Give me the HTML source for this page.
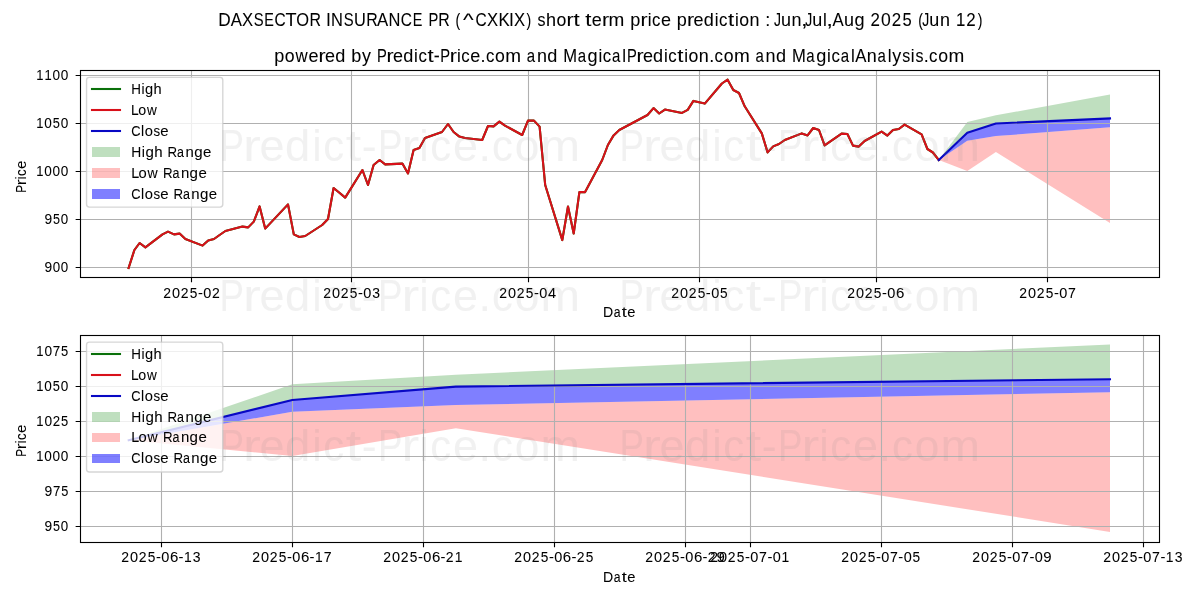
<!DOCTYPE html>
<html lang="en"><head><meta charset="utf-8"><title>DAXSECTOR INSURANCE PR (^CXKIX) short term price prediction</title>
<style>html,body{margin:0;padding:0;background:#fff}svg{display:block;will-change:transform}text{font-family:"Liberation Sans",sans-serif;fill:#000;stroke:#000;stroke-width:0.06;stroke-linejoin:round}.wm text{fill:#808080;stroke:#808080;opacity:.105}</style></head>
<body><svg width="1200" height="600" viewBox="0 0 1200 600">
<rect width="1200" height="600" fill="#fff"/>
<g id="axes1">
<polygon points="938.8,160 967.3,121.91 995.9,115.33 1110,94.62 1110,118.42 995.9,123.49 967.3,132.68 938.8,160" fill="#008000" fill-opacity=".25"/>
<polygon points="938.8,160 967.3,140.7 995.9,136.11 1110,127.33 1110,223.12 995.9,152.02 967.3,171.08 938.8,160" fill="#ff0000" fill-opacity=".25"/>
<polygon points="938.8,160 967.3,132.68 995.9,123.49 1110,118.42 1110,127.33 995.9,136.11 967.3,140.7 938.8,160" fill="#0000ff" fill-opacity=".5"/>
<path d="M191.5 70.5V277.5M351.5 70.5V277.5M528.5 70.5V277.5M699.5 70.5V277.5M876.5 70.5V277.5M1047.5 70.5V277.5M80.5 75.5H1159.5M80.5 123.5H1159.5M80.5 171.5H1159.5M80.5 219.5H1159.5M80.5 267.5H1159.5" stroke="#b0b0b0" stroke-width="1.11" fill="none"/>
<polyline points="128.6,268 134.4,250 139.6,243 145.4,247.4 162.5,234.4 168,231.6 174,234.4 179.6,233.6 185.4,239 202.6,245.6 208.2,240.4 214,239 219.6,235 225.4,231 242.4,226.6 248.2,227.4 253.8,221.6 259.6,206.4 265.2,228.6 288,204.4 293.8,234.4 299.4,237 305.2,236 322.2,225 328,219 333.6,188 339.4,192.8 345.2,197.6 362.4,170 368,185 373.6,165 379.6,160 385.2,164.4 402.4,163.6 408,173.4 413.6,150 419.4,148 425,138 442,132 448,124 453.6,132 459.4,136.6 465,138 482.2,140 488,126 493.6,126.4 499.4,121.6 505,125.6 522.2,135 528,120.6 534,120.6 539.6,126.6 545.2,185 562.3,240.1 568,206.5 573.7,233.5 579.4,192.1 585.1,192.1 602.2,160 607.9,145 613.6,135.4 619.3,130 647.5,115 653.5,108.1 659.2,113.5 664.9,109.6 682,112.9 687.7,109.9 693.4,100.9 704.8,103.6 721.9,83.5 727.6,79.7 733.3,90 739,93 744.7,106.3 761.8,133.4 767.6,152.4 773.2,146.4 779,144 784.8,140 801.8,133.4 807.6,135.4 813.2,128 819,130 824.6,145.4 841.6,133.6 847.4,134 853,145.6 858.8,146.6 864.6,141 881.6,131.6 887.4,135.6 893,130 898.8,129 904.6,124.6 921.6,134.4 927.4,149 932.9,152.5 938.8,160" fill="none" stroke="#0a700a" stroke-width="2.083" stroke-linejoin="round" stroke-linecap="square"/>
<polyline points="128.6,268 134.4,250 139.6,243 145.4,247.4 162.5,234.4 168,231.6 174,234.4 179.6,233.6 185.4,239 202.6,245.6 208.2,240.4 214,239 219.6,235 225.4,231 242.4,226.6 248.2,227.4 253.8,221.6 259.6,206.4 265.2,228.6 288,204.4 293.8,234.4 299.4,237 305.2,236 322.2,225 328,219 333.6,188 339.4,192.8 345.2,197.6 362.4,170 368,185 373.6,165 379.6,160 385.2,164.4 402.4,163.6 408,173.4 413.6,150 419.4,148 425,138 442,132 448,124 453.6,132 459.4,136.6 465,138 482.2,140 488,126 493.6,126.4 499.4,121.6 505,125.6 522.2,135 528,120.6 534,120.6 539.6,126.6 545.2,185 562.3,240.1 568,206.5 573.7,233.5 579.4,192.1 585.1,192.1 602.2,160 607.9,145 613.6,135.4 619.3,130 647.5,115 653.5,108.1 659.2,113.5 664.9,109.6 682,112.9 687.7,109.9 693.4,100.9 704.8,103.6 721.9,83.5 727.6,79.7 733.3,90 739,93 744.7,106.3 761.8,133.4 767.6,152.4 773.2,146.4 779,144 784.8,140 801.8,133.4 807.6,135.4 813.2,128 819,130 824.6,145.4 841.6,133.6 847.4,134 853,145.6 858.8,146.6 864.6,141 881.6,131.6 887.4,135.6 893,130 898.8,129 904.6,124.6 921.6,134.4 927.4,149 932.9,152.5 938.8,160" fill="none" stroke="#d8101a" stroke-width="2.083" stroke-linejoin="round" stroke-linecap="square"/>
<polyline points="938.8,160 967.3,132.68 995.9,123.49 1110,118.42" fill="none" stroke="#0808c4" stroke-width="2.083" stroke-linejoin="round" stroke-linecap="square"/>
<path d="M191.5 277.5v4.86M351.5 277.5v4.86M528.5 277.5v4.86M699.5 277.5v4.86M876.5 277.5v4.86M1047.5 277.5v4.86M80.5 75.5h-4.86M80.5 123.5h-4.86M80.5 171.5h-4.86M80.5 219.5h-4.86M80.5 267.5h-4.86" stroke="#000" stroke-width="1.11" fill="none"/>
<rect x="80.5" y="70.5" width="1079" height="207" fill="none" stroke="#000" stroke-width="1.11"/>
<text transform="translate(163 298)" font-size="14.65"><tspan x="0.3" textLength="7.77" lengthAdjust="spacingAndGlyphs">2</tspan><tspan x="9.08" textLength="8.06" lengthAdjust="spacingAndGlyphs">0</tspan><tspan x="17.78" textLength="7.77" lengthAdjust="spacingAndGlyphs">2</tspan><tspan x="26.72" textLength="7.61" lengthAdjust="spacingAndGlyphs">5</tspan><tspan x="34.96" textLength="4.93" lengthAdjust="spacingAndGlyphs">-</tspan><tspan x="40.24" textLength="8.06" lengthAdjust="spacingAndGlyphs">0</tspan><tspan x="48.94" textLength="7.77" lengthAdjust="spacingAndGlyphs">2</tspan></text>
<text transform="translate(323 298)" font-size="14.65"><tspan x="0.3" textLength="7.77" lengthAdjust="spacingAndGlyphs">2</tspan><tspan x="9.08" textLength="8.06" lengthAdjust="spacingAndGlyphs">0</tspan><tspan x="17.78" textLength="7.77" lengthAdjust="spacingAndGlyphs">2</tspan><tspan x="26.72" textLength="7.61" lengthAdjust="spacingAndGlyphs">5</tspan><tspan x="34.96" textLength="4.93" lengthAdjust="spacingAndGlyphs">-</tspan><tspan x="40.24" textLength="8.06" lengthAdjust="spacingAndGlyphs">0</tspan><tspan x="49.16" textLength="7.74" lengthAdjust="spacingAndGlyphs">3</tspan></text>
<text transform="translate(499 298)" font-size="14.65"><tspan x="0.3" textLength="7.77" lengthAdjust="spacingAndGlyphs">2</tspan><tspan x="9.08" textLength="8.06" lengthAdjust="spacingAndGlyphs">0</tspan><tspan x="17.78" textLength="7.77" lengthAdjust="spacingAndGlyphs">2</tspan><tspan x="26.72" textLength="7.61" lengthAdjust="spacingAndGlyphs">5</tspan><tspan x="34.96" textLength="4.93" lengthAdjust="spacingAndGlyphs">-</tspan><tspan x="40.24" textLength="8.06" lengthAdjust="spacingAndGlyphs">0</tspan><tspan x="48.98" textLength="8.06" lengthAdjust="spacingAndGlyphs">4</tspan></text>
<text transform="translate(670.91 298)" font-size="14.65"><tspan x="0.3" textLength="7.77" lengthAdjust="spacingAndGlyphs">2</tspan><tspan x="9.08" textLength="8.06" lengthAdjust="spacingAndGlyphs">0</tspan><tspan x="17.78" textLength="7.77" lengthAdjust="spacingAndGlyphs">2</tspan><tspan x="26.72" textLength="7.61" lengthAdjust="spacingAndGlyphs">5</tspan><tspan x="34.96" textLength="4.93" lengthAdjust="spacingAndGlyphs">-</tspan><tspan x="40.24" textLength="8.06" lengthAdjust="spacingAndGlyphs">0</tspan><tspan x="49.15" textLength="7.61" lengthAdjust="spacingAndGlyphs">5</tspan></text>
<text transform="translate(847 298)" font-size="14.65"><tspan x="0.31" textLength="7.78" lengthAdjust="spacingAndGlyphs">2</tspan><tspan x="9.1" textLength="8.08" lengthAdjust="spacingAndGlyphs">0</tspan><tspan x="17.82" textLength="7.78" lengthAdjust="spacingAndGlyphs">2</tspan><tspan x="26.78" textLength="7.62" lengthAdjust="spacingAndGlyphs">5</tspan><tspan x="35.04" textLength="4.95" lengthAdjust="spacingAndGlyphs">-</tspan><tspan x="40.33" textLength="8.08" lengthAdjust="spacingAndGlyphs">0</tspan><tspan x="48.94" textLength="8.36" lengthAdjust="spacingAndGlyphs">6</tspan></text>
<text transform="translate(1019 298)" font-size="14.65"><tspan x="0.3" textLength="7.77" lengthAdjust="spacingAndGlyphs">2</tspan><tspan x="9.08" textLength="8.06" lengthAdjust="spacingAndGlyphs">0</tspan><tspan x="17.78" textLength="7.77" lengthAdjust="spacingAndGlyphs">2</tspan><tspan x="26.72" textLength="7.61" lengthAdjust="spacingAndGlyphs">5</tspan><tspan x="34.96" textLength="4.93" lengthAdjust="spacingAndGlyphs">-</tspan><tspan x="40.24" textLength="8.06" lengthAdjust="spacingAndGlyphs">0</tspan><tspan x="49.04" textLength="7.88" lengthAdjust="spacingAndGlyphs">7</tspan></text>
<text transform="translate(35.83 80)" font-size="14.65"><tspan x="0.43" textLength="7.22" lengthAdjust="spacingAndGlyphs">1</tspan><tspan x="8.62" textLength="7.22" lengthAdjust="spacingAndGlyphs">1</tspan><tspan x="16.7" textLength="7.56" lengthAdjust="spacingAndGlyphs">0</tspan><tspan x="24.89" textLength="7.56" lengthAdjust="spacingAndGlyphs">0</tspan></text>
<text transform="translate(35.83 128)" font-size="14.65"><tspan x="0.43" textLength="7.22" lengthAdjust="spacingAndGlyphs">1</tspan><tspan x="8.51" textLength="7.56" lengthAdjust="spacingAndGlyphs">0</tspan><tspan x="16.86" textLength="7.13" lengthAdjust="spacingAndGlyphs">5</tspan><tspan x="24.89" textLength="7.56" lengthAdjust="spacingAndGlyphs">0</tspan></text>
<text transform="translate(35.83 176)" font-size="14.65"><tspan x="0.43" textLength="7.22" lengthAdjust="spacingAndGlyphs">1</tspan><tspan x="8.51" textLength="7.56" lengthAdjust="spacingAndGlyphs">0</tspan><tspan x="16.7" textLength="7.56" lengthAdjust="spacingAndGlyphs">0</tspan><tspan x="24.89" textLength="7.56" lengthAdjust="spacingAndGlyphs">0</tspan></text>
<text transform="translate(44.45 224)" font-size="14.65"><tspan x="0.15" textLength="7.66" lengthAdjust="spacingAndGlyphs">9</tspan><tspan x="8.52" textLength="7" lengthAdjust="spacingAndGlyphs">5</tspan><tspan x="16.4" textLength="7.42" lengthAdjust="spacingAndGlyphs">0</tspan></text>
<text transform="translate(44.45 272)" font-size="14.65"><tspan x="0.15" textLength="7.66" lengthAdjust="spacingAndGlyphs">9</tspan><tspan x="8.36" textLength="7.42" lengthAdjust="spacingAndGlyphs">0</tspan><tspan x="16.4" textLength="7.42" lengthAdjust="spacingAndGlyphs">0</tspan></text>
<text transform="translate(602.91 317)" font-size="14.65"><tspan x="0.18" textLength="10.19" lengthAdjust="spacingAndGlyphs">D</tspan><tspan x="10.79" textLength="6.82" lengthAdjust="spacingAndGlyphs">a</tspan><tspan x="18.93" textLength="5.06" lengthAdjust="spacingAndGlyphs">t</tspan><tspan x="24.3" textLength="8.19" lengthAdjust="spacingAndGlyphs">e</tspan></text>
<text transform="translate(26 193.06) rotate(-90)" font-size="14.65"><tspan x="0.34" textLength="7.87" lengthAdjust="spacingAndGlyphs">P</tspan><tspan x="7.87" textLength="5.69" lengthAdjust="spacingAndGlyphs">r</tspan><tspan x="13.62" textLength="3.03" lengthAdjust="spacingAndGlyphs">i</tspan><tspan x="17.15" textLength="6.69" lengthAdjust="spacingAndGlyphs">c</tspan><tspan x="24.43" textLength="8.02" lengthAdjust="spacingAndGlyphs">e</tspan></text>
<rect x="86.54" y="77.34" width="136.25" height="129.83" rx="2.8" ry="2.8" fill="#fff" fill-opacity=".8" stroke="#ccc" stroke-opacity=".8" stroke-width="1.39"/>
<path d="M92 89H120" stroke="#0a700a" stroke-width="2.083" stroke-linecap="square" fill="none"/>
<path d="M92 110H120" stroke="#d8101a" stroke-width="2.083" stroke-linecap="square" fill="none"/>
<path d="M92 131H120" stroke="#0808c4" stroke-width="2.083" stroke-linecap="square" fill="none"/>
<rect x="92" y="147" width="28" height="10" fill="#008000" fill-opacity=".25"/>
<rect x="92" y="168" width="28" height="10" fill="#ff0000" fill-opacity=".25"/>
<rect x="92" y="189" width="28" height="10" fill="#0000ff" fill-opacity=".5"/>
<text transform="translate(130.93 94)" font-size="14.65"><tspan x="0.22" textLength="9.69" lengthAdjust="spacingAndGlyphs">H</tspan><tspan x="10.48" textLength="3.06" lengthAdjust="spacingAndGlyphs">i</tspan><tspan x="14" textLength="8.15" lengthAdjust="spacingAndGlyphs">g</tspan><tspan x="22.63" textLength="8.14" lengthAdjust="spacingAndGlyphs">h</tspan></text>
<text transform="translate(130.93 115)" font-size="14.65"><tspan x="0.18" textLength="7.67" lengthAdjust="spacingAndGlyphs">L</tspan><tspan x="7.36" textLength="7.93" lengthAdjust="spacingAndGlyphs">o</tspan><tspan x="16" textLength="9.79" lengthAdjust="spacingAndGlyphs">w</tspan></text>
<text transform="translate(131 136)" font-size="14.65"><tspan x="0.13" textLength="9.3" lengthAdjust="spacingAndGlyphs">C</tspan><tspan x="10.03" textLength="3.15" lengthAdjust="spacingAndGlyphs">l</tspan><tspan x="13.67" textLength="8.2" lengthAdjust="spacingAndGlyphs">o</tspan><tspan x="22.39" textLength="6.65" lengthAdjust="spacingAndGlyphs">s</tspan><tspan x="29.35" textLength="8.33" lengthAdjust="spacingAndGlyphs">e</tspan></text>
<text transform="translate(131 157)" font-size="14.65"><tspan x="0.23" textLength="9.98" lengthAdjust="spacingAndGlyphs">H</tspan><tspan x="10.8" textLength="3.16" lengthAdjust="spacingAndGlyphs">i</tspan><tspan x="14.43" textLength="8.4" lengthAdjust="spacingAndGlyphs">g</tspan><tspan x="23.32" textLength="8.39" lengthAdjust="spacingAndGlyphs">h</tspan><tspan x="31.91"> </tspan><tspan x="36.59" textLength="9.6" lengthAdjust="spacingAndGlyphs">R</tspan><tspan x="46.02" textLength="6.95" lengthAdjust="spacingAndGlyphs">a</tspan><tspan x="54.49" textLength="8.33" lengthAdjust="spacingAndGlyphs">n</tspan><tspan x="63.15" textLength="8.4" lengthAdjust="spacingAndGlyphs">g</tspan><tspan x="71.96" textLength="8.35" lengthAdjust="spacingAndGlyphs">e</tspan></text>
<text transform="translate(131 178)" font-size="14.65"><tspan x="0.19" textLength="7.96" lengthAdjust="spacingAndGlyphs">L</tspan><tspan x="7.64" textLength="8.22" lengthAdjust="spacingAndGlyphs">o</tspan><tspan x="16.6" textLength="10.15" lengthAdjust="spacingAndGlyphs">w</tspan><tspan x="27.36"> </tspan><tspan x="32.05" textLength="9.61" lengthAdjust="spacingAndGlyphs">R</tspan><tspan x="41.49" textLength="6.96" lengthAdjust="spacingAndGlyphs">a</tspan><tspan x="49.96" textLength="8.34" lengthAdjust="spacingAndGlyphs">n</tspan><tspan x="58.64" textLength="8.41" lengthAdjust="spacingAndGlyphs">g</tspan><tspan x="67.45" textLength="8.36" lengthAdjust="spacingAndGlyphs">e</tspan></text>
<text transform="translate(131 199)" font-size="14.65"><tspan x="0.13" textLength="9.31" lengthAdjust="spacingAndGlyphs">C</tspan><tspan x="10.04" textLength="3.15" lengthAdjust="spacingAndGlyphs">l</tspan><tspan x="13.69" textLength="8.21" lengthAdjust="spacingAndGlyphs">o</tspan><tspan x="22.42" textLength="6.66" lengthAdjust="spacingAndGlyphs">s</tspan><tspan x="29.39" textLength="8.34" lengthAdjust="spacingAndGlyphs">e</tspan><tspan x="37.8"> </tspan><tspan x="42.49" textLength="9.59" lengthAdjust="spacingAndGlyphs">R</tspan><tspan x="51.91" textLength="6.95" lengthAdjust="spacingAndGlyphs">a</tspan><tspan x="60.38" textLength="8.33" lengthAdjust="spacingAndGlyphs">n</tspan><tspan x="69.04" textLength="8.4" lengthAdjust="spacingAndGlyphs">g</tspan><tspan x="77.84" textLength="8.34" lengthAdjust="spacingAndGlyphs">e</tspan></text>
</g>
<g id="axes2">
<polygon points="128.7,440.3 292.3,384.3 455.9,374.7 1110,344.5 1110,379.2 455.9,386.6 292.3,400 128.7,440.3" fill="#008000" fill-opacity=".25"/>
<polygon points="128.7,440.3 292.3,411.7 455.9,405 1110,392.2 1110,531.9 455.9,428.2 292.3,456 128.7,440.3" fill="#ff0000" fill-opacity=".25"/>
<polygon points="128.7,440.3 292.3,400 455.9,386.6 1110,379.2 1110,392.2 455.9,405 292.3,411.7 128.7,440.3" fill="#0000ff" fill-opacity=".5"/>
<path d="M161.5 335.5V542.5M292.5 335.5V542.5M423.5 335.5V542.5M554.5 335.5V542.5M685.5 335.5V542.5M750.5 335.5V542.5M881.5 335.5V542.5M1012.5 335.5V542.5M1143.5 335.5V542.5M80.5 351.5H1159.5M80.5 386.5H1159.5M80.5 421.5H1159.5M80.5 456.5H1159.5M80.5 491.5H1159.5M80.5 526.5H1159.5" stroke="#b0b0b0" stroke-width="1.11" fill="none"/>
<polyline points="128.7,440.3 292.3,400 455.9,386.6 1110,379.2" fill="none" stroke="#0808c4" stroke-width="2.083" stroke-linejoin="round" stroke-linecap="square"/>
<path d="M161.5 542.5v4.86M292.5 542.5v4.86M423.5 542.5v4.86M554.5 542.5v4.86M685.5 542.5v4.86M750.5 542.5v4.86M881.5 542.5v4.86M1012.5 542.5v4.86M1143.5 542.5v4.86M80.5 351.5h-4.86M80.5 386.5h-4.86M80.5 421.5h-4.86M80.5 456.5h-4.86M80.5 491.5h-4.86M80.5 526.5h-4.86" stroke="#000" stroke-width="1.11" fill="none"/>
<rect x="80.5" y="335.5" width="1079" height="207" fill="none" stroke="#000" stroke-width="1.11"/>
<text transform="translate(121 562)" font-size="14.65"><tspan x="0.31" textLength="7.79" lengthAdjust="spacingAndGlyphs">2</tspan><tspan x="9.1" textLength="8.08" lengthAdjust="spacingAndGlyphs">0</tspan><tspan x="17.82" textLength="7.79" lengthAdjust="spacingAndGlyphs">2</tspan><tspan x="26.79" textLength="7.62" lengthAdjust="spacingAndGlyphs">5</tspan><tspan x="35.05" textLength="4.95" lengthAdjust="spacingAndGlyphs">-</tspan><tspan x="40.34" textLength="8.08" lengthAdjust="spacingAndGlyphs">0</tspan><tspan x="48.96" textLength="8.36" lengthAdjust="spacingAndGlyphs">6</tspan><tspan x="57.53" textLength="4.95" lengthAdjust="spacingAndGlyphs">-</tspan><tspan x="62.94" textLength="7.72" lengthAdjust="spacingAndGlyphs">1</tspan><tspan x="71.76" textLength="7.76" lengthAdjust="spacingAndGlyphs">3</tspan></text>
<text transform="translate(252 562)" font-size="14.65"><tspan x="0.31" textLength="7.79" lengthAdjust="spacingAndGlyphs">2</tspan><tspan x="9.1" textLength="8.08" lengthAdjust="spacingAndGlyphs">0</tspan><tspan x="17.82" textLength="7.79" lengthAdjust="spacingAndGlyphs">2</tspan><tspan x="26.79" textLength="7.62" lengthAdjust="spacingAndGlyphs">5</tspan><tspan x="35.05" textLength="4.95" lengthAdjust="spacingAndGlyphs">-</tspan><tspan x="40.34" textLength="8.08" lengthAdjust="spacingAndGlyphs">0</tspan><tspan x="48.96" textLength="8.36" lengthAdjust="spacingAndGlyphs">6</tspan><tspan x="57.53" textLength="4.95" lengthAdjust="spacingAndGlyphs">-</tspan><tspan x="62.94" textLength="7.72" lengthAdjust="spacingAndGlyphs">1</tspan><tspan x="71.64" textLength="7.9" lengthAdjust="spacingAndGlyphs">7</tspan></text>
<text transform="translate(383 562)" font-size="14.65"><tspan x="0.31" textLength="7.79" lengthAdjust="spacingAndGlyphs">2</tspan><tspan x="9.1" textLength="8.08" lengthAdjust="spacingAndGlyphs">0</tspan><tspan x="17.82" textLength="7.79" lengthAdjust="spacingAndGlyphs">2</tspan><tspan x="26.79" textLength="7.62" lengthAdjust="spacingAndGlyphs">5</tspan><tspan x="35.05" textLength="4.95" lengthAdjust="spacingAndGlyphs">-</tspan><tspan x="40.34" textLength="8.08" lengthAdjust="spacingAndGlyphs">0</tspan><tspan x="48.96" textLength="8.36" lengthAdjust="spacingAndGlyphs">6</tspan><tspan x="57.53" textLength="4.95" lengthAdjust="spacingAndGlyphs">-</tspan><tspan x="62.79" textLength="7.79" lengthAdjust="spacingAndGlyphs">2</tspan><tspan x="71.7" textLength="7.72" lengthAdjust="spacingAndGlyphs">1</tspan></text>
<text transform="translate(514 562)" font-size="14.65"><tspan x="0.3" textLength="7.77" lengthAdjust="spacingAndGlyphs">2</tspan><tspan x="9.08" textLength="8.07" lengthAdjust="spacingAndGlyphs">0</tspan><tspan x="17.79" textLength="7.77" lengthAdjust="spacingAndGlyphs">2</tspan><tspan x="26.75" textLength="7.61" lengthAdjust="spacingAndGlyphs">5</tspan><tspan x="34.99" textLength="4.94" lengthAdjust="spacingAndGlyphs">-</tspan><tspan x="40.28" textLength="8.07" lengthAdjust="spacingAndGlyphs">0</tspan><tspan x="48.88" textLength="8.35" lengthAdjust="spacingAndGlyphs">6</tspan><tspan x="57.44" textLength="4.94" lengthAdjust="spacingAndGlyphs">-</tspan><tspan x="62.69" textLength="7.77" lengthAdjust="spacingAndGlyphs">2</tspan><tspan x="71.64" textLength="7.61" lengthAdjust="spacingAndGlyphs">5</tspan></text>
<text transform="translate(645 562)" font-size="14.65"><tspan x="0.31" textLength="7.79" lengthAdjust="spacingAndGlyphs">2</tspan><tspan x="9.1" textLength="8.08" lengthAdjust="spacingAndGlyphs">0</tspan><tspan x="17.82" textLength="7.79" lengthAdjust="spacingAndGlyphs">2</tspan><tspan x="26.79" textLength="7.62" lengthAdjust="spacingAndGlyphs">5</tspan><tspan x="35.05" textLength="4.95" lengthAdjust="spacingAndGlyphs">-</tspan><tspan x="40.34" textLength="8.08" lengthAdjust="spacingAndGlyphs">0</tspan><tspan x="48.96" textLength="8.36" lengthAdjust="spacingAndGlyphs">6</tspan><tspan x="57.53" textLength="4.95" lengthAdjust="spacingAndGlyphs">-</tspan><tspan x="62.79" textLength="7.79" lengthAdjust="spacingAndGlyphs">2</tspan><tspan x="71.41" textLength="8.34" lengthAdjust="spacingAndGlyphs">9</tspan></text>
<text transform="translate(710 562)" font-size="14.65"><tspan x="0.3" textLength="7.77" lengthAdjust="spacingAndGlyphs">2</tspan><tspan x="9.08" textLength="8.07" lengthAdjust="spacingAndGlyphs">0</tspan><tspan x="17.79" textLength="7.77" lengthAdjust="spacingAndGlyphs">2</tspan><tspan x="26.75" textLength="7.61" lengthAdjust="spacingAndGlyphs">5</tspan><tspan x="34.99" textLength="4.94" lengthAdjust="spacingAndGlyphs">-</tspan><tspan x="40.28" textLength="8.07" lengthAdjust="spacingAndGlyphs">0</tspan><tspan x="49.08" textLength="7.89" lengthAdjust="spacingAndGlyphs">7</tspan><tspan x="57.44" textLength="4.94" lengthAdjust="spacingAndGlyphs">-</tspan><tspan x="62.73" textLength="8.07" lengthAdjust="spacingAndGlyphs">0</tspan><tspan x="71.59" textLength="7.7" lengthAdjust="spacingAndGlyphs">1</tspan></text>
<text transform="translate(841 562)" font-size="14.65"><tspan x="0.3" textLength="7.76" lengthAdjust="spacingAndGlyphs">2</tspan><tspan x="9.07" textLength="8.05" lengthAdjust="spacingAndGlyphs">0</tspan><tspan x="17.77" textLength="7.76" lengthAdjust="spacingAndGlyphs">2</tspan><tspan x="26.71" textLength="7.6" lengthAdjust="spacingAndGlyphs">5</tspan><tspan x="34.94" textLength="4.93" lengthAdjust="spacingAndGlyphs">-</tspan><tspan x="40.21" textLength="8.05" lengthAdjust="spacingAndGlyphs">0</tspan><tspan x="49.01" textLength="7.88" lengthAdjust="spacingAndGlyphs">7</tspan><tspan x="57.35" textLength="4.93" lengthAdjust="spacingAndGlyphs">-</tspan><tspan x="62.63" textLength="8.05" lengthAdjust="spacingAndGlyphs">0</tspan><tspan x="71.53" textLength="7.6" lengthAdjust="spacingAndGlyphs">5</tspan></text>
<text transform="translate(972 562)" font-size="14.65"><tspan x="0.3" textLength="7.77" lengthAdjust="spacingAndGlyphs">2</tspan><tspan x="9.08" textLength="8.07" lengthAdjust="spacingAndGlyphs">0</tspan><tspan x="17.79" textLength="7.77" lengthAdjust="spacingAndGlyphs">2</tspan><tspan x="26.75" textLength="7.61" lengthAdjust="spacingAndGlyphs">5</tspan><tspan x="34.99" textLength="4.94" lengthAdjust="spacingAndGlyphs">-</tspan><tspan x="40.28" textLength="8.07" lengthAdjust="spacingAndGlyphs">0</tspan><tspan x="49.08" textLength="7.89" lengthAdjust="spacingAndGlyphs">7</tspan><tspan x="57.44" textLength="4.94" lengthAdjust="spacingAndGlyphs">-</tspan><tspan x="62.73" textLength="8.07" lengthAdjust="spacingAndGlyphs">0</tspan><tspan x="71.29" textLength="8.33" lengthAdjust="spacingAndGlyphs">9</tspan></text>
<text transform="translate(1103 562)" font-size="14.65"><tspan x="0.3" textLength="7.77" lengthAdjust="spacingAndGlyphs">2</tspan><tspan x="9.08" textLength="8.07" lengthAdjust="spacingAndGlyphs">0</tspan><tspan x="17.79" textLength="7.77" lengthAdjust="spacingAndGlyphs">2</tspan><tspan x="26.75" textLength="7.61" lengthAdjust="spacingAndGlyphs">5</tspan><tspan x="34.99" textLength="4.94" lengthAdjust="spacingAndGlyphs">-</tspan><tspan x="40.28" textLength="8.07" lengthAdjust="spacingAndGlyphs">0</tspan><tspan x="49.08" textLength="7.89" lengthAdjust="spacingAndGlyphs">7</tspan><tspan x="57.44" textLength="4.94" lengthAdjust="spacingAndGlyphs">-</tspan><tspan x="62.84" textLength="7.7" lengthAdjust="spacingAndGlyphs">1</tspan><tspan x="71.65" textLength="7.75" lengthAdjust="spacingAndGlyphs">3</tspan></text>
<text transform="translate(35.82 356)" font-size="14.65"><tspan x="0.43" textLength="7.28" lengthAdjust="spacingAndGlyphs">1</tspan><tspan x="8.59" textLength="7.62" lengthAdjust="spacingAndGlyphs">0</tspan><tspan x="16.91" textLength="7.46" lengthAdjust="spacingAndGlyphs">7</tspan><tspan x="25.28" textLength="7.19" lengthAdjust="spacingAndGlyphs">5</tspan></text>
<text transform="translate(35.83 391)" font-size="14.65"><tspan x="0.43" textLength="7.22" lengthAdjust="spacingAndGlyphs">1</tspan><tspan x="8.51" textLength="7.56" lengthAdjust="spacingAndGlyphs">0</tspan><tspan x="16.86" textLength="7.13" lengthAdjust="spacingAndGlyphs">5</tspan><tspan x="24.89" textLength="7.56" lengthAdjust="spacingAndGlyphs">0</tspan></text>
<text transform="translate(35.82 426)" font-size="14.65"><tspan x="0.43" textLength="7.28" lengthAdjust="spacingAndGlyphs">1</tspan><tspan x="8.59" textLength="7.62" lengthAdjust="spacingAndGlyphs">0</tspan><tspan x="16.82" textLength="7.35" lengthAdjust="spacingAndGlyphs">2</tspan><tspan x="25.28" textLength="7.19" lengthAdjust="spacingAndGlyphs">5</tspan></text>
<text transform="translate(35.83 461)" font-size="14.65"><tspan x="0.43" textLength="7.22" lengthAdjust="spacingAndGlyphs">1</tspan><tspan x="8.51" textLength="7.56" lengthAdjust="spacingAndGlyphs">0</tspan><tspan x="16.7" textLength="7.56" lengthAdjust="spacingAndGlyphs">0</tspan><tspan x="24.89" textLength="7.56" lengthAdjust="spacingAndGlyphs">0</tspan></text>
<text transform="translate(44.44 496)" font-size="14.65"><tspan x="0.15" textLength="7.75" lengthAdjust="spacingAndGlyphs">9</tspan><tspan x="8.51" textLength="7.34" lengthAdjust="spacingAndGlyphs">7</tspan><tspan x="16.76" textLength="7.09" lengthAdjust="spacingAndGlyphs">5</tspan></text>
<text transform="translate(44.45 531)" font-size="14.65"><tspan x="0.15" textLength="7.66" lengthAdjust="spacingAndGlyphs">9</tspan><tspan x="8.52" textLength="7" lengthAdjust="spacingAndGlyphs">5</tspan><tspan x="16.4" textLength="7.42" lengthAdjust="spacingAndGlyphs">0</tspan></text>
<text transform="translate(602.91 582)" font-size="14.65"><tspan x="0.18" textLength="10.19" lengthAdjust="spacingAndGlyphs">D</tspan><tspan x="10.79" textLength="6.82" lengthAdjust="spacingAndGlyphs">a</tspan><tspan x="18.93" textLength="5.06" lengthAdjust="spacingAndGlyphs">t</tspan><tspan x="24.3" textLength="8.19" lengthAdjust="spacingAndGlyphs">e</tspan></text>
<text transform="translate(26 457.06) rotate(-90)" font-size="14.65"><tspan x="0.34" textLength="7.87" lengthAdjust="spacingAndGlyphs">P</tspan><tspan x="7.87" textLength="5.69" lengthAdjust="spacingAndGlyphs">r</tspan><tspan x="13.62" textLength="3.03" lengthAdjust="spacingAndGlyphs">i</tspan><tspan x="17.15" textLength="6.69" lengthAdjust="spacingAndGlyphs">c</tspan><tspan x="24.43" textLength="8.02" lengthAdjust="spacingAndGlyphs">e</tspan></text>
<rect x="86.54" y="342.14" width="136.25" height="129.83" rx="2.8" ry="2.8" fill="#fff" fill-opacity=".8" stroke="#ccc" stroke-opacity=".8" stroke-width="1.39"/>
<path d="M92 354H120" stroke="#0a700a" stroke-width="2.083" stroke-linecap="square" fill="none"/>
<path d="M92 375H120" stroke="#d8101a" stroke-width="2.083" stroke-linecap="square" fill="none"/>
<path d="M92 396H120" stroke="#0808c4" stroke-width="2.083" stroke-linecap="square" fill="none"/>
<rect x="92" y="412" width="28" height="10" fill="#008000" fill-opacity=".25"/>
<rect x="92" y="433" width="28" height="9" fill="#ff0000" fill-opacity=".25"/>
<rect x="92" y="454" width="28" height="9" fill="#0000ff" fill-opacity=".5"/>
<text transform="translate(130.93 359)" font-size="14.65"><tspan x="0.22" textLength="9.69" lengthAdjust="spacingAndGlyphs">H</tspan><tspan x="10.48" textLength="3.06" lengthAdjust="spacingAndGlyphs">i</tspan><tspan x="14" textLength="8.15" lengthAdjust="spacingAndGlyphs">g</tspan><tspan x="22.63" textLength="8.14" lengthAdjust="spacingAndGlyphs">h</tspan></text>
<text transform="translate(130.93 380)" font-size="14.65"><tspan x="0.18" textLength="7.67" lengthAdjust="spacingAndGlyphs">L</tspan><tspan x="7.36" textLength="7.93" lengthAdjust="spacingAndGlyphs">o</tspan><tspan x="16" textLength="9.79" lengthAdjust="spacingAndGlyphs">w</tspan></text>
<text transform="translate(131 401)" font-size="14.65"><tspan x="0.13" textLength="9.3" lengthAdjust="spacingAndGlyphs">C</tspan><tspan x="10.03" textLength="3.15" lengthAdjust="spacingAndGlyphs">l</tspan><tspan x="13.67" textLength="8.2" lengthAdjust="spacingAndGlyphs">o</tspan><tspan x="22.39" textLength="6.65" lengthAdjust="spacingAndGlyphs">s</tspan><tspan x="29.35" textLength="8.33" lengthAdjust="spacingAndGlyphs">e</tspan></text>
<text transform="translate(131 422)" font-size="14.65"><tspan x="0.23" textLength="9.98" lengthAdjust="spacingAndGlyphs">H</tspan><tspan x="10.8" textLength="3.16" lengthAdjust="spacingAndGlyphs">i</tspan><tspan x="14.43" textLength="8.4" lengthAdjust="spacingAndGlyphs">g</tspan><tspan x="23.32" textLength="8.39" lengthAdjust="spacingAndGlyphs">h</tspan><tspan x="31.91"> </tspan><tspan x="36.59" textLength="9.6" lengthAdjust="spacingAndGlyphs">R</tspan><tspan x="46.02" textLength="6.95" lengthAdjust="spacingAndGlyphs">a</tspan><tspan x="54.49" textLength="8.33" lengthAdjust="spacingAndGlyphs">n</tspan><tspan x="63.15" textLength="8.4" lengthAdjust="spacingAndGlyphs">g</tspan><tspan x="71.96" textLength="8.35" lengthAdjust="spacingAndGlyphs">e</tspan></text>
<text transform="translate(131 442)" font-size="14.65"><tspan x="0.19" textLength="7.96" lengthAdjust="spacingAndGlyphs">L</tspan><tspan x="7.64" textLength="8.22" lengthAdjust="spacingAndGlyphs">o</tspan><tspan x="16.6" textLength="10.15" lengthAdjust="spacingAndGlyphs">w</tspan><tspan x="27.36"> </tspan><tspan x="32.05" textLength="9.61" lengthAdjust="spacingAndGlyphs">R</tspan><tspan x="41.49" textLength="6.96" lengthAdjust="spacingAndGlyphs">a</tspan><tspan x="49.96" textLength="8.34" lengthAdjust="spacingAndGlyphs">n</tspan><tspan x="58.64" textLength="8.41" lengthAdjust="spacingAndGlyphs">g</tspan><tspan x="67.45" textLength="8.36" lengthAdjust="spacingAndGlyphs">e</tspan></text>
<text transform="translate(131 463)" font-size="14.65"><tspan x="0.13" textLength="9.31" lengthAdjust="spacingAndGlyphs">C</tspan><tspan x="10.04" textLength="3.15" lengthAdjust="spacingAndGlyphs">l</tspan><tspan x="13.69" textLength="8.21" lengthAdjust="spacingAndGlyphs">o</tspan><tspan x="22.42" textLength="6.66" lengthAdjust="spacingAndGlyphs">s</tspan><tspan x="29.39" textLength="8.34" lengthAdjust="spacingAndGlyphs">e</tspan><tspan x="37.8"> </tspan><tspan x="42.49" textLength="9.59" lengthAdjust="spacingAndGlyphs">R</tspan><tspan x="51.91" textLength="6.95" lengthAdjust="spacingAndGlyphs">a</tspan><tspan x="60.38" textLength="8.33" lengthAdjust="spacingAndGlyphs">n</tspan><tspan x="69.04" textLength="8.4" lengthAdjust="spacingAndGlyphs">g</tspan><tspan x="77.84" textLength="8.34" lengthAdjust="spacingAndGlyphs">e</tspan></text>
</g>
<text transform="translate(218 26)" font-size="17.58"><tspan x="0.22" textLength="12.44" lengthAdjust="spacingAndGlyphs">D</tspan><tspan x="12.63" textLength="11.19" lengthAdjust="spacingAndGlyphs">A</tspan><tspan x="24.02" textLength="11.11" lengthAdjust="spacingAndGlyphs">X</tspan><tspan x="35.7" textLength="9.9" lengthAdjust="spacingAndGlyphs">S</tspan><tspan x="46.26" textLength="9.62" lengthAdjust="spacingAndGlyphs">E</tspan><tspan x="56.46" textLength="11.16" lengthAdjust="spacingAndGlyphs">C</tspan><tspan x="67.45" textLength="11.09" lengthAdjust="spacingAndGlyphs">T</tspan><tspan x="78.2" textLength="12.8" lengthAdjust="spacingAndGlyphs">O</tspan><tspan x="91.44" textLength="11.5" lengthAdjust="spacingAndGlyphs">R</tspan><tspan x="102.65"> </tspan><tspan x="107.94" textLength="4.89" lengthAdjust="spacingAndGlyphs">I</tspan><tspan x="113.12" textLength="11.88" lengthAdjust="spacingAndGlyphs">N</tspan><tspan x="125.68" textLength="9.9" lengthAdjust="spacingAndGlyphs">S</tspan><tspan x="135.98" textLength="11.82" lengthAdjust="spacingAndGlyphs">U</tspan><tspan x="148.28" textLength="11.5" lengthAdjust="spacingAndGlyphs">R</tspan><tspan x="158.96" textLength="11.19" lengthAdjust="spacingAndGlyphs">A</tspan><tspan x="170.51" textLength="11.88" lengthAdjust="spacingAndGlyphs">N</tspan><tspan x="182.79" textLength="11.16" lengthAdjust="spacingAndGlyphs">C</tspan><tspan x="194.69" textLength="9.62" lengthAdjust="spacingAndGlyphs">E</tspan><tspan x="204.73"> </tspan><tspan x="210.44" textLength="9.82" lengthAdjust="spacingAndGlyphs">P</tspan><tspan x="220.35" textLength="11.5" lengthAdjust="spacingAndGlyphs">R</tspan><tspan x="231.56"> </tspan><tspan x="237.4" textLength="4.69" lengthAdjust="spacingAndGlyphs">(</tspan><tspan x="244.97" textLength="10.64" lengthAdjust="spacingAndGlyphs">^</tspan><tspan x="257.38" textLength="11.16" lengthAdjust="spacingAndGlyphs">C</tspan><tspan x="268.95" textLength="11.11" lengthAdjust="spacingAndGlyphs">X</tspan><tspan x="280.46" textLength="11.2" lengthAdjust="spacingAndGlyphs">K</tspan><tspan x="291.1" textLength="4.89" lengthAdjust="spacingAndGlyphs">I</tspan><tspan x="296.11" textLength="11.11" lengthAdjust="spacingAndGlyphs">X</tspan><tspan x="308.62" textLength="4.69" lengthAdjust="spacingAndGlyphs">)</tspan><tspan x="313.85"> </tspan><tspan x="319.58" textLength="7.98" lengthAdjust="spacingAndGlyphs">s</tspan><tspan x="328.04" textLength="10.05" lengthAdjust="spacingAndGlyphs">h</tspan><tspan x="338.48" textLength="9.84" lengthAdjust="spacingAndGlyphs">o</tspan><tspan x="348.56" textLength="7.1" lengthAdjust="spacingAndGlyphs">r</tspan><tspan x="355.4" textLength="6.18" lengthAdjust="spacingAndGlyphs">t</tspan><tspan x="361.8"> </tspan><tspan x="367.19" textLength="6.18" lengthAdjust="spacingAndGlyphs">t</tspan><tspan x="373.74" textLength="10" lengthAdjust="spacingAndGlyphs">e</tspan><tspan x="383.9" textLength="7.1" lengthAdjust="spacingAndGlyphs">r</tspan><tspan x="390.64" textLength="15.8" lengthAdjust="spacingAndGlyphs">m</tspan><tspan x="406.56"> </tspan><tspan x="412.18" textLength="10.07" lengthAdjust="spacingAndGlyphs">p</tspan><tspan x="422.48" textLength="7.1" lengthAdjust="spacingAndGlyphs">r</tspan><tspan x="429.64" textLength="3.78" lengthAdjust="spacingAndGlyphs">i</tspan><tspan x="434.03" textLength="8.35" lengthAdjust="spacingAndGlyphs">c</tspan><tspan x="443.11" textLength="10" lengthAdjust="spacingAndGlyphs">e</tspan><tspan x="453.17"> </tspan><tspan x="458.79" textLength="10.07" lengthAdjust="spacingAndGlyphs">p</tspan><tspan x="469.08" textLength="7.1" lengthAdjust="spacingAndGlyphs">r</tspan><tspan x="475.59" textLength="10" lengthAdjust="spacingAndGlyphs">e</tspan><tspan x="485.82" textLength="10.06" lengthAdjust="spacingAndGlyphs">d</tspan><tspan x="496.63" textLength="3.78" lengthAdjust="spacingAndGlyphs">i</tspan><tspan x="501.02" textLength="8.35" lengthAdjust="spacingAndGlyphs">c</tspan><tspan x="510.05" textLength="6.18" lengthAdjust="spacingAndGlyphs">t</tspan><tspan x="516.88" textLength="3.78" lengthAdjust="spacingAndGlyphs">i</tspan><tspan x="521.24" textLength="9.84" lengthAdjust="spacingAndGlyphs">o</tspan><tspan x="531.55" textLength="9.98" lengthAdjust="spacingAndGlyphs">n</tspan><tspan x="541.75"> </tspan><tspan x="547.34" textLength="5" lengthAdjust="spacingAndGlyphs">:</tspan><tspan x="552.62"> </tspan><tspan x="556.01" textLength="7.03" lengthAdjust="spacingAndGlyphs">J</tspan><tspan x="563.05" textLength="9.98" lengthAdjust="spacingAndGlyphs">u</tspan><tspan x="573.64" textLength="9.98" lengthAdjust="spacingAndGlyphs">n</tspan><tspan x="582.95" textLength="6.74" lengthAdjust="spacingAndGlyphs">,</tspan><tspan x="587.23" textLength="7.03" lengthAdjust="spacingAndGlyphs">J</tspan><tspan x="594.27" textLength="9.98" lengthAdjust="spacingAndGlyphs">u</tspan><tspan x="604.97" textLength="3.78" lengthAdjust="spacingAndGlyphs">l</tspan><tspan x="608.27" textLength="6.74" lengthAdjust="spacingAndGlyphs">,</tspan><tspan x="614.54" textLength="11.19" lengthAdjust="spacingAndGlyphs">A</tspan><tspan x="626.05" textLength="9.98" lengthAdjust="spacingAndGlyphs">u</tspan><tspan x="636.49" textLength="10.06" lengthAdjust="spacingAndGlyphs">g</tspan><tspan x="646.87"> </tspan><tspan x="652.52" textLength="9.41" lengthAdjust="spacingAndGlyphs">2</tspan><tspan x="663.12" textLength="9.76" lengthAdjust="spacingAndGlyphs">0</tspan><tspan x="673.65" textLength="9.41" lengthAdjust="spacingAndGlyphs">2</tspan><tspan x="684.46" textLength="9.21" lengthAdjust="spacingAndGlyphs">5</tspan><tspan x="694.41"> </tspan><tspan x="700.24" textLength="4.69" lengthAdjust="spacingAndGlyphs">(</tspan><tspan x="704.27" textLength="7.03" lengthAdjust="spacingAndGlyphs">J</tspan><tspan x="711.31" textLength="9.98" lengthAdjust="spacingAndGlyphs">u</tspan><tspan x="721.91" textLength="9.98" lengthAdjust="spacingAndGlyphs">n</tspan><tspan x="732.11"> </tspan><tspan x="737.94" textLength="9.32" lengthAdjust="spacingAndGlyphs">1</tspan><tspan x="748.32" textLength="9.41" lengthAdjust="spacingAndGlyphs">2</tspan><tspan x="759.77" textLength="4.69" lengthAdjust="spacingAndGlyphs">)</tspan></text>
<text transform="translate(274 62)" font-size="17.58"><tspan x="0.34" textLength="10.07" lengthAdjust="spacingAndGlyphs">p</tspan><tspan x="10.72" textLength="9.84" lengthAdjust="spacingAndGlyphs">o</tspan><tspan x="21.43" textLength="12.15" lengthAdjust="spacingAndGlyphs">w</tspan><tspan x="34.44" textLength="10" lengthAdjust="spacingAndGlyphs">e</tspan><tspan x="44.6" textLength="7.1" lengthAdjust="spacingAndGlyphs">r</tspan><tspan x="51.11" textLength="10" lengthAdjust="spacingAndGlyphs">e</tspan><tspan x="61.33" textLength="10.06" lengthAdjust="spacingAndGlyphs">d</tspan><tspan x="71.71"> </tspan><tspan x="77.34" textLength="10.07" lengthAdjust="spacingAndGlyphs">b</tspan><tspan x="87.99" textLength="8.94" lengthAdjust="spacingAndGlyphs">y</tspan><tspan x="97.36"> </tspan><tspan x="103.07" textLength="9.82" lengthAdjust="spacingAndGlyphs">P</tspan><tspan x="112.5" textLength="7.1" lengthAdjust="spacingAndGlyphs">r</tspan><tspan x="119.01" textLength="10" lengthAdjust="spacingAndGlyphs">e</tspan><tspan x="129.23" textLength="10.06" lengthAdjust="spacingAndGlyphs">d</tspan><tspan x="140.05" textLength="3.78" lengthAdjust="spacingAndGlyphs">i</tspan><tspan x="144.44" textLength="8.35" lengthAdjust="spacingAndGlyphs">c</tspan><tspan x="153.47" textLength="6.18" lengthAdjust="spacingAndGlyphs">t</tspan><tspan x="159.89" textLength="5.98" lengthAdjust="spacingAndGlyphs">-</tspan><tspan x="166.29" textLength="9.82" lengthAdjust="spacingAndGlyphs">P</tspan><tspan x="175.72" textLength="7.1" lengthAdjust="spacingAndGlyphs">r</tspan><tspan x="182.89" textLength="3.78" lengthAdjust="spacingAndGlyphs">i</tspan><tspan x="187.28" textLength="8.35" lengthAdjust="spacingAndGlyphs">c</tspan><tspan x="196.36" textLength="10" lengthAdjust="spacingAndGlyphs">e</tspan><tspan x="206.55" textLength="5" lengthAdjust="spacingAndGlyphs">.</tspan><tspan x="211.91" textLength="8.35" lengthAdjust="spacingAndGlyphs">c</tspan><tspan x="221" textLength="9.84" lengthAdjust="spacingAndGlyphs">o</tspan><tspan x="231.24" textLength="15.8" lengthAdjust="spacingAndGlyphs">m</tspan><tspan x="247.16"> </tspan><tspan x="252.81" textLength="8.33" lengthAdjust="spacingAndGlyphs">a</tspan><tspan x="262.94" textLength="9.98" lengthAdjust="spacingAndGlyphs">n</tspan><tspan x="273.3" textLength="10.06" lengthAdjust="spacingAndGlyphs">d</tspan><tspan x="283.69"> </tspan><tspan x="289.24" textLength="13.83" lengthAdjust="spacingAndGlyphs">M</tspan><tspan x="303.66" textLength="8.33" lengthAdjust="spacingAndGlyphs">a</tspan><tspan x="313.63" textLength="10.06" lengthAdjust="spacingAndGlyphs">g</tspan><tspan x="324.44" textLength="3.78" lengthAdjust="spacingAndGlyphs">i</tspan><tspan x="328.83" textLength="8.35" lengthAdjust="spacingAndGlyphs">c</tspan><tspan x="338.12" textLength="8.33" lengthAdjust="spacingAndGlyphs">a</tspan><tspan x="348.35" textLength="3.78" lengthAdjust="spacingAndGlyphs">l</tspan><tspan x="352.97" textLength="9.82" lengthAdjust="spacingAndGlyphs">P</tspan><tspan x="362.41" textLength="7.1" lengthAdjust="spacingAndGlyphs">r</tspan><tspan x="368.92" textLength="10" lengthAdjust="spacingAndGlyphs">e</tspan><tspan x="379.14" textLength="10.06" lengthAdjust="spacingAndGlyphs">d</tspan><tspan x="389.95" textLength="3.78" lengthAdjust="spacingAndGlyphs">i</tspan><tspan x="394.35" textLength="8.35" lengthAdjust="spacingAndGlyphs">c</tspan><tspan x="403.38" textLength="6.18" lengthAdjust="spacingAndGlyphs">t</tspan><tspan x="410.21" textLength="3.78" lengthAdjust="spacingAndGlyphs">i</tspan><tspan x="414.57" textLength="9.84" lengthAdjust="spacingAndGlyphs">o</tspan><tspan x="424.87" textLength="9.98" lengthAdjust="spacingAndGlyphs">n</tspan><tspan x="435.21" textLength="5" lengthAdjust="spacingAndGlyphs">.</tspan><tspan x="440.57" textLength="8.35" lengthAdjust="spacingAndGlyphs">c</tspan><tspan x="449.66" textLength="9.84" lengthAdjust="spacingAndGlyphs">o</tspan><tspan x="459.9" textLength="15.8" lengthAdjust="spacingAndGlyphs">m</tspan><tspan x="475.82"> </tspan><tspan x="481.47" textLength="8.33" lengthAdjust="spacingAndGlyphs">a</tspan><tspan x="491.6" textLength="9.98" lengthAdjust="spacingAndGlyphs">n</tspan><tspan x="501.96" textLength="10.06" lengthAdjust="spacingAndGlyphs">d</tspan><tspan x="512.35"> </tspan><tspan x="517.9" textLength="13.83" lengthAdjust="spacingAndGlyphs">M</tspan><tspan x="532.32" textLength="8.33" lengthAdjust="spacingAndGlyphs">a</tspan><tspan x="542.29" textLength="10.06" lengthAdjust="spacingAndGlyphs">g</tspan><tspan x="553.1" textLength="3.78" lengthAdjust="spacingAndGlyphs">i</tspan><tspan x="557.49" textLength="8.35" lengthAdjust="spacingAndGlyphs">c</tspan><tspan x="566.78" textLength="8.33" lengthAdjust="spacingAndGlyphs">a</tspan><tspan x="577.01" textLength="3.78" lengthAdjust="spacingAndGlyphs">l</tspan><tspan x="581.3" textLength="11.19" lengthAdjust="spacingAndGlyphs">A</tspan><tspan x="592.89" textLength="9.98" lengthAdjust="spacingAndGlyphs">n</tspan><tspan x="603.46" textLength="8.33" lengthAdjust="spacingAndGlyphs">a</tspan><tspan x="613.69" textLength="3.78" lengthAdjust="spacingAndGlyphs">l</tspan><tspan x="618.33" textLength="8.94" lengthAdjust="spacingAndGlyphs">y</tspan><tspan x="628.17" textLength="7.98" lengthAdjust="spacingAndGlyphs">s</tspan><tspan x="636.79" textLength="3.78" lengthAdjust="spacingAndGlyphs">i</tspan><tspan x="641.43" textLength="7.98" lengthAdjust="spacingAndGlyphs">s</tspan><tspan x="649.76" textLength="5" lengthAdjust="spacingAndGlyphs">.</tspan><tspan x="655.12" textLength="8.35" lengthAdjust="spacingAndGlyphs">c</tspan><tspan x="664.21" textLength="9.84" lengthAdjust="spacingAndGlyphs">o</tspan><tspan x="674.45" textLength="15.8" lengthAdjust="spacingAndGlyphs">m</tspan></text>
<g class="wm">
<text transform="translate(218.5 161)" font-size="43.96"><tspan x="1.07" textLength="24.57" lengthAdjust="spacingAndGlyphs">P</tspan><tspan x="24.58" textLength="17.77" lengthAdjust="spacingAndGlyphs">r</tspan><tspan x="40.95" textLength="25.02" lengthAdjust="spacingAndGlyphs">e</tspan><tspan x="66.56" textLength="25.17" lengthAdjust="spacingAndGlyphs">d</tspan><tspan x="93.65" textLength="9.46" lengthAdjust="spacingAndGlyphs">i</tspan><tspan x="104.65" textLength="20.89" lengthAdjust="spacingAndGlyphs">c</tspan><tspan x="127.28" textLength="15.46" lengthAdjust="spacingAndGlyphs">t</tspan><tspan x="143.35" textLength="14.95" lengthAdjust="spacingAndGlyphs">-</tspan><tspan x="159.39" textLength="24.57" lengthAdjust="spacingAndGlyphs">P</tspan><tspan x="182.9" textLength="17.77" lengthAdjust="spacingAndGlyphs">r</tspan><tspan x="200.85" textLength="9.46" lengthAdjust="spacingAndGlyphs">i</tspan><tspan x="211.85" textLength="20.89" lengthAdjust="spacingAndGlyphs">c</tspan><tspan x="234.59" textLength="25.02" lengthAdjust="spacingAndGlyphs">e</tspan><tspan x="260.14" textLength="12.52" lengthAdjust="spacingAndGlyphs">.</tspan><tspan x="273.54" textLength="20.89" lengthAdjust="spacingAndGlyphs">c</tspan><tspan x="296.33" textLength="24.62" lengthAdjust="spacingAndGlyphs">o</tspan><tspan x="321.98" textLength="39.53" lengthAdjust="spacingAndGlyphs">m</tspan></text>
<text transform="translate(618.5 161)" font-size="43.96"><tspan x="1.07" textLength="24.57" lengthAdjust="spacingAndGlyphs">P</tspan><tspan x="24.58" textLength="17.77" lengthAdjust="spacingAndGlyphs">r</tspan><tspan x="40.95" textLength="25.02" lengthAdjust="spacingAndGlyphs">e</tspan><tspan x="66.56" textLength="25.17" lengthAdjust="spacingAndGlyphs">d</tspan><tspan x="93.65" textLength="9.46" lengthAdjust="spacingAndGlyphs">i</tspan><tspan x="104.65" textLength="20.89" lengthAdjust="spacingAndGlyphs">c</tspan><tspan x="127.28" textLength="15.46" lengthAdjust="spacingAndGlyphs">t</tspan><tspan x="143.35" textLength="14.95" lengthAdjust="spacingAndGlyphs">-</tspan><tspan x="159.39" textLength="24.57" lengthAdjust="spacingAndGlyphs">P</tspan><tspan x="182.9" textLength="17.77" lengthAdjust="spacingAndGlyphs">r</tspan><tspan x="200.85" textLength="9.46" lengthAdjust="spacingAndGlyphs">i</tspan><tspan x="211.85" textLength="20.89" lengthAdjust="spacingAndGlyphs">c</tspan><tspan x="234.59" textLength="25.02" lengthAdjust="spacingAndGlyphs">e</tspan><tspan x="260.14" textLength="12.52" lengthAdjust="spacingAndGlyphs">.</tspan><tspan x="273.54" textLength="20.89" lengthAdjust="spacingAndGlyphs">c</tspan><tspan x="296.33" textLength="24.62" lengthAdjust="spacingAndGlyphs">o</tspan><tspan x="321.98" textLength="39.53" lengthAdjust="spacingAndGlyphs">m</tspan></text>
<text transform="translate(218.5 311)" font-size="43.96"><tspan x="1.07" textLength="24.57" lengthAdjust="spacingAndGlyphs">P</tspan><tspan x="24.58" textLength="17.77" lengthAdjust="spacingAndGlyphs">r</tspan><tspan x="40.95" textLength="25.02" lengthAdjust="spacingAndGlyphs">e</tspan><tspan x="66.56" textLength="25.17" lengthAdjust="spacingAndGlyphs">d</tspan><tspan x="93.65" textLength="9.46" lengthAdjust="spacingAndGlyphs">i</tspan><tspan x="104.65" textLength="20.89" lengthAdjust="spacingAndGlyphs">c</tspan><tspan x="127.28" textLength="15.46" lengthAdjust="spacingAndGlyphs">t</tspan><tspan x="143.35" textLength="14.95" lengthAdjust="spacingAndGlyphs">-</tspan><tspan x="159.39" textLength="24.57" lengthAdjust="spacingAndGlyphs">P</tspan><tspan x="182.9" textLength="17.77" lengthAdjust="spacingAndGlyphs">r</tspan><tspan x="200.85" textLength="9.46" lengthAdjust="spacingAndGlyphs">i</tspan><tspan x="211.85" textLength="20.89" lengthAdjust="spacingAndGlyphs">c</tspan><tspan x="234.59" textLength="25.02" lengthAdjust="spacingAndGlyphs">e</tspan><tspan x="260.14" textLength="12.52" lengthAdjust="spacingAndGlyphs">.</tspan><tspan x="273.54" textLength="20.89" lengthAdjust="spacingAndGlyphs">c</tspan><tspan x="296.33" textLength="24.62" lengthAdjust="spacingAndGlyphs">o</tspan><tspan x="321.98" textLength="39.53" lengthAdjust="spacingAndGlyphs">m</tspan></text>
<text transform="translate(618.5 311)" font-size="43.96"><tspan x="1.07" textLength="24.57" lengthAdjust="spacingAndGlyphs">P</tspan><tspan x="24.58" textLength="17.77" lengthAdjust="spacingAndGlyphs">r</tspan><tspan x="40.95" textLength="25.02" lengthAdjust="spacingAndGlyphs">e</tspan><tspan x="66.56" textLength="25.17" lengthAdjust="spacingAndGlyphs">d</tspan><tspan x="93.65" textLength="9.46" lengthAdjust="spacingAndGlyphs">i</tspan><tspan x="104.65" textLength="20.89" lengthAdjust="spacingAndGlyphs">c</tspan><tspan x="127.28" textLength="15.46" lengthAdjust="spacingAndGlyphs">t</tspan><tspan x="143.35" textLength="14.95" lengthAdjust="spacingAndGlyphs">-</tspan><tspan x="159.39" textLength="24.57" lengthAdjust="spacingAndGlyphs">P</tspan><tspan x="182.9" textLength="17.77" lengthAdjust="spacingAndGlyphs">r</tspan><tspan x="200.85" textLength="9.46" lengthAdjust="spacingAndGlyphs">i</tspan><tspan x="211.85" textLength="20.89" lengthAdjust="spacingAndGlyphs">c</tspan><tspan x="234.59" textLength="25.02" lengthAdjust="spacingAndGlyphs">e</tspan><tspan x="260.14" textLength="12.52" lengthAdjust="spacingAndGlyphs">.</tspan><tspan x="273.54" textLength="20.89" lengthAdjust="spacingAndGlyphs">c</tspan><tspan x="296.33" textLength="24.62" lengthAdjust="spacingAndGlyphs">o</tspan><tspan x="321.98" textLength="39.53" lengthAdjust="spacingAndGlyphs">m</tspan></text>
<text transform="translate(218.5 461)" font-size="43.96"><tspan x="1.07" textLength="24.57" lengthAdjust="spacingAndGlyphs">P</tspan><tspan x="24.58" textLength="17.77" lengthAdjust="spacingAndGlyphs">r</tspan><tspan x="40.95" textLength="25.02" lengthAdjust="spacingAndGlyphs">e</tspan><tspan x="66.56" textLength="25.17" lengthAdjust="spacingAndGlyphs">d</tspan><tspan x="93.65" textLength="9.46" lengthAdjust="spacingAndGlyphs">i</tspan><tspan x="104.65" textLength="20.89" lengthAdjust="spacingAndGlyphs">c</tspan><tspan x="127.28" textLength="15.46" lengthAdjust="spacingAndGlyphs">t</tspan><tspan x="143.35" textLength="14.95" lengthAdjust="spacingAndGlyphs">-</tspan><tspan x="159.39" textLength="24.57" lengthAdjust="spacingAndGlyphs">P</tspan><tspan x="182.9" textLength="17.77" lengthAdjust="spacingAndGlyphs">r</tspan><tspan x="200.85" textLength="9.46" lengthAdjust="spacingAndGlyphs">i</tspan><tspan x="211.85" textLength="20.89" lengthAdjust="spacingAndGlyphs">c</tspan><tspan x="234.59" textLength="25.02" lengthAdjust="spacingAndGlyphs">e</tspan><tspan x="260.14" textLength="12.52" lengthAdjust="spacingAndGlyphs">.</tspan><tspan x="273.54" textLength="20.89" lengthAdjust="spacingAndGlyphs">c</tspan><tspan x="296.33" textLength="24.62" lengthAdjust="spacingAndGlyphs">o</tspan><tspan x="321.98" textLength="39.53" lengthAdjust="spacingAndGlyphs">m</tspan></text>
<text transform="translate(618.5 461)" font-size="43.96"><tspan x="1.07" textLength="24.57" lengthAdjust="spacingAndGlyphs">P</tspan><tspan x="24.58" textLength="17.77" lengthAdjust="spacingAndGlyphs">r</tspan><tspan x="40.95" textLength="25.02" lengthAdjust="spacingAndGlyphs">e</tspan><tspan x="66.56" textLength="25.17" lengthAdjust="spacingAndGlyphs">d</tspan><tspan x="93.65" textLength="9.46" lengthAdjust="spacingAndGlyphs">i</tspan><tspan x="104.65" textLength="20.89" lengthAdjust="spacingAndGlyphs">c</tspan><tspan x="127.28" textLength="15.46" lengthAdjust="spacingAndGlyphs">t</tspan><tspan x="143.35" textLength="14.95" lengthAdjust="spacingAndGlyphs">-</tspan><tspan x="159.39" textLength="24.57" lengthAdjust="spacingAndGlyphs">P</tspan><tspan x="182.9" textLength="17.77" lengthAdjust="spacingAndGlyphs">r</tspan><tspan x="200.85" textLength="9.46" lengthAdjust="spacingAndGlyphs">i</tspan><tspan x="211.85" textLength="20.89" lengthAdjust="spacingAndGlyphs">c</tspan><tspan x="234.59" textLength="25.02" lengthAdjust="spacingAndGlyphs">e</tspan><tspan x="260.14" textLength="12.52" lengthAdjust="spacingAndGlyphs">.</tspan><tspan x="273.54" textLength="20.89" lengthAdjust="spacingAndGlyphs">c</tspan><tspan x="296.33" textLength="24.62" lengthAdjust="spacingAndGlyphs">o</tspan><tspan x="321.98" textLength="39.53" lengthAdjust="spacingAndGlyphs">m</tspan></text>
</g>
</svg></body></html>
